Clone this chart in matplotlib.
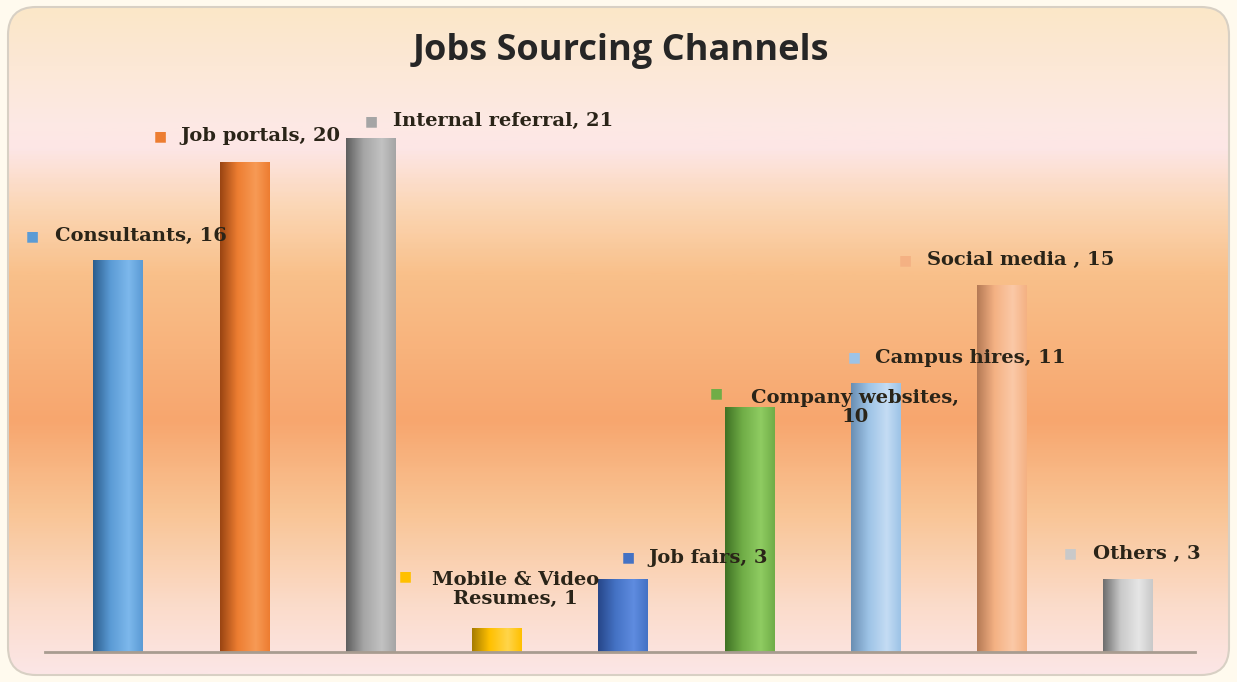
import numpy as np
import matplotlib
matplotlib.use("Agg")
import matplotlib.pyplot as plt
from matplotlib.colors import LinearSegmentedColormap
from matplotlib.patches import FancyBboxPatch

# data
channels = ["Consultants", "Job portals", "Internal referral", "Mobile & Video Resumes",
            "Job fairs", "Company websites", "Campus hires", "Social media ", "Others "]
counts = [16, 20, 21, 1, 3, 10, 11, 15, 3]
label_texts = ["Consultants, 16", "Job portals, 20", "Internal referral, 21",
               "Mobile & Video\nResumes, 1", "Job fairs, 3", "Company websites,\n10",
               "Campus hires, 11", "Social media , 15", "Others , 3"]

# bar colours (base, dark edge, highlight)
base_cols = ["#5b9bd5", "#ed7d31", "#a5a5a5", "#ffc000", "#4472c4",
             "#70ad47", "#9dc3e6", "#f4b183", "#c9c9c9"]
dark_cols = ["#2c5e8e", "#9a4512", "#5f5f5f", "#a67c00", "#27478a",
             "#3f7224", "#6a8fb3", "#b57a55", "#6e6e6e"]
light_cols = ["#7db8ec", "#f79a55", "#c2c2c2", "#ffd54a", "#5f8ce0",
              "#8fcc62", "#c4dcf4", "#fbc9a7", "#e6e6e6"]

# label layout: (square dx, square dy, text dx, text dy, alignment) in pixels from bar top
label_layout = [
    (-86, 24, -63, 24, "left"),
    (-84, 26, -64, 26, "left"),
    (1, 17, 22, 17, "left"),
    (-91, 51, 19, 38, "center"),
    (5, 21, 25, 21, "left"),
    (-33, 14, 106, 0, "center"),
    (-21, 25, -1, 25, "left"),
    (-97, 25, -75, 25, "left"),
    (-58, 25, -35, 25, "left"),
]

W, H = 1237, 682
fig = plt.figure(figsize=(W / 100, H / 100), dpi=100)
fig.patch.set_facecolor("#fffaee")

# ── background panel with vertical gradient ──────────────────────────────────
bg = fig.add_axes([0, 0, 1, 1])
bg.set_xlim(0, W)
bg.set_ylim(H, 0)
bg.axis("off")
stops = [(0.0, "#fbe7c8"), (0.17, "#fde9e4"), (0.21, "#fde6e6"), (0.30, "#fbd6b4"),
         (0.40, "#f9c08a"), (0.62, "#f7a66e"), (0.76, "#f9c596"), (0.90, "#fbdccb"),
         (1.0, "#fce6e6")]
bg_cmap = LinearSegmentedColormap.from_list("bg", stops)
grad = np.linspace(0, 1, 400).reshape(-1, 1)
panel = FancyBboxPatch((8, 7), W - 16, H - 14, boxstyle="round,pad=0,rounding_size=28",
                       facecolor="none", edgecolor="#d8d0c4", linewidth=1.5, zorder=2)
bg.add_patch(panel)
im = bg.imshow(grad, cmap=bg_cmap, aspect="auto", extent=(8, W - 8, H - 7, 7), zorder=1)
im.set_clip_path(panel)

bg.text(W / 2 + 2, 51, "Jobs Sourcing Channels", ha="center", va="center",
        fontsize=26, fontweight="bold", family="Open Sans", color="#262626")

# ── bar chart ────────────────────────────────────────────────────────────────
base_px = 652
top_px = 100
ax = fig.add_axes([45 / W, 1 - base_px / H, 1150 / W, (base_px - top_px) / H])
ax.patch.set_alpha(0)
ymax = 21 * (base_px - top_px) / (base_px - 138)
x = np.arange(len(counts))
bars = ax.bar(x, counts, width=0.39, color=base_cols, zorder=3)

for i, b in enumerate(bars):
    cmap = LinearSegmentedColormap.from_list(
        f"cyl{i}", [(0, dark_cols[i]), (0.35, base_cols[i]), (0.72, light_cols[i]),
                    (1, base_cols[i])])
    g = np.linspace(0, 1, 100).reshape(1, -1)
    x0 = b.get_x()
    gi = ax.imshow(g, cmap=cmap, aspect="auto", zorder=4,
                   extent=(x0, x0 + b.get_width(), 0, b.get_height()))
    gi.set_clip_path(b)

ax.set_xlim(-0.578, 8.53)
ax.set_ylim(0, ymax)
for s in ["top", "right", "left"]:
    ax.spines[s].set_visible(False)
ax.spines["bottom"].set_color("#a89c90")
ax.spines["bottom"].set_linewidth(2)
ax.spines["bottom"].set_zorder(5)
ax.set_xticks([])
ax.set_yticks([])

for i, (xi, v) in enumerate(zip(x, counts)):
    sdx, sdy, tdx, tdy, al = label_layout[i]
    ax.annotate("\u25a0", xy=(xi, v), xytext=(sdx, sdy), textcoords="offset pixels",
                ha="center", va="center", fontsize=10, color=base_cols[i],
                family="DejaVu Sans", annotation_clip=False, zorder=6)
    ax.annotate(label_texts[i], xy=(xi, v), xytext=(tdx, tdy), textcoords="offset pixels",
                ha=al, va="center", multialignment="center", fontsize=14,
                fontweight="bold", family="DejaVu Serif", color="#2a2418",
                annotation_clip=False, zorder=6, linespacing=1.1)

fig.savefig("out.png", dpi=100, facecolor=fig.get_facecolor())
